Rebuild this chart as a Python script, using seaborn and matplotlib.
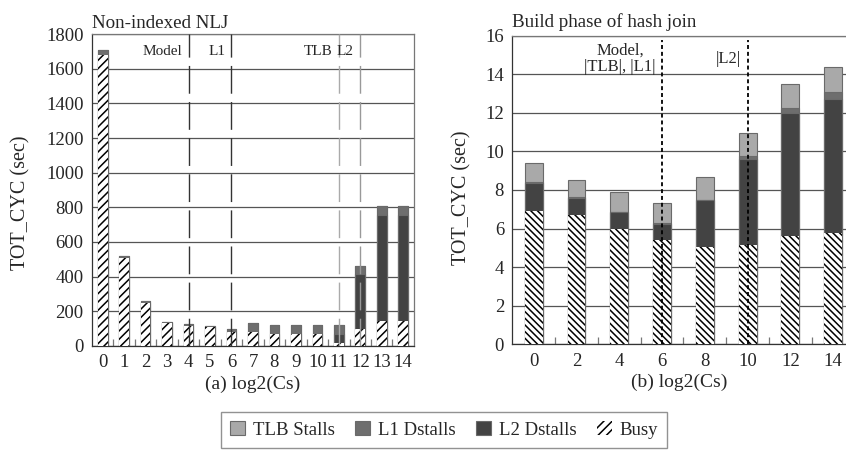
import numpy as np
import pandas as pd
import matplotlib
matplotlib.use("Agg")
import matplotlib.pyplot as plt
from matplotlib.patches import Patch
import seaborn as sns

# (a) Non-indexed nested-loop join, per log2(Cs)
cats_a = [str(i) for i in range(15)]
busy_a = [1680, 510, 250, 130, 118, 110, 82, 78, 70, 70, 72, 20, 97, 142, 145]
l2_a = [0, 0, 0, 0, 0, 0, 0, 0, 0, 0, 0, 51, 317, 613, 610]
l1_a = [25, 12, 8, 10, 10, 8, 14, 52, 52, 52, 50, 50, 49, 50, 53]
tlb_a = [0, 0, 0, 0, 0, 0, 0, 0, 0, 0, 0, 0, 0, 0, 0]

# (b) Build phase of hash join, per log2(Cs)
cats_b = ["0", "2", "4", "6", "8", "10", "12", "14"]
busy_b = [6.92, 6.68, 6.00, 5.40, 5.06, 5.13, 5.63, 5.75]
l2_b = [1.45, 0.90, 0.85, 0.83, 2.42, 4.47, 6.34, 6.95]
l1_b = [0.05, 0.05, 0.00, 0.07, 0.00, 0.16, 0.25, 0.36]
tlb_b = [0.95, 0.90, 1.02, 1.00, 1.17, 1.17, 1.27, 1.29]

# cache-boundary markers
marks_a = [("Model", "4", "#333333"), ("L1", "6", "#333333"),
           ("TLB", "11", "#aaaaaa"), ("L2", "12", "#999999")]
marks_b = [("Model,\n|TLB|, |L1|", "6"), ("|L2|", "10")]

series = ["TLB Stalls", "L1 Dstalls", "L2 Dstalls", "Busy"]
colors = {"TLB Stalls": "#a9a9a9", "L1 Dstalls": "#6e6e6e",
          "L2 Dstalls": "#434343", "Busy": "white"}

sns.set_style("white")
plt.rcParams["font.family"] = ["Liberation Serif", "DejaVu Serif"]
plt.rcParams["hatch.linewidth"] = 1.1

fig = plt.figure(figsize=(8.46, 4.54), dpi=100)
ax_a = fig.add_axes([0.1087, 0.2379, 0.3806, 0.6872])
ax_b = fig.add_axes([0.6056, 0.2416, 0.3944, 0.6802])


def stacked(ax, cats, busy, l2, l1, tlb, width, hatch):
    busy = np.asarray(busy, float)
    c_l2 = busy + np.asarray(l2, float)
    c_l1 = c_l2 + np.asarray(l1, float)
    c_tlb = c_l1 + np.asarray(tlb, float)
    layers = [("TLB Stalls", c_tlb), ("L1 Dstalls", c_l1),
              ("L2 Dstalls", c_l2)]
    for name, vals in layers:
        df = pd.DataFrame({"x": cats, "y": vals})
        sns.barplot(data=df, x="x", y="y", order=cats, ax=ax,
                    color=colors[name], saturation=1, width=width,
                    errorbar=None, edgecolor="#6a6a6a", linewidth=0.8,
                    zorder=2)
    df = pd.DataFrame({"x": cats, "y": busy})
    sns.barplot(data=df, x="x", y="y", order=cats, ax=ax, color="white",
                saturation=1, width=width, errorbar=None, hatch=hatch,
                edgecolor="black", linewidth=0, zorder=3)


stacked(ax_a, cats_a, busy_a, l2_a, l1_a, tlb_a, 0.45, "////")
stacked(ax_b, cats_b, busy_b, l2_b, l1_b, tlb_b, 0.42, "\\\\\\\\\\")

# axes styling
for ax, ymax, step, xr, n in [(ax_a, 1800, 200, 14.5, 15),
                              (ax_b, 16, 2, 7.3, 8)]:
    ax.set_yticks(np.arange(0, ymax + step / 2, step))
    ax.set_xticks(np.arange(0.5, xr, 1.0), minor=True)
    ax.set_ylim(0, ymax)
    ax.set_xlim(-0.5, xr)
    ax.yaxis.grid(True, color="#555555", linewidth=0.9)
    ax.set_axisbelow(True)
    ax.tick_params(axis="x", which="minor", direction="in", length=5,
                   width=0.9, color="#777777", bottom=True)
    ax.tick_params(axis="x", which="major", length=0, labelsize=13.5, pad=6)
    ax.tick_params(axis="y", which="major", length=0, labelsize=13.5, pad=6)
    for s in ax.spines.values():
        s.set_color("#777777")
        s.set_linewidth(0.9)
    ax.spines["bottom"].set_color("#333333")
    ax.spines["left"].set_color("#333333")

ax_b.spines["right"].set_visible(False)

ax_a.set_xlabel("(a) log2(Cs)", fontsize=14, labelpad=3)
ax_b.set_xlabel("(b) log2(Cs)", fontsize=14, labelpad=3)
ax_a.set_ylabel("TOT_CYC (sec)", fontsize=14.5)
ax_b.set_ylabel("TOT_CYC (sec)", fontsize=14.5)
ax_a.yaxis.set_label_coords(-0.19, 0.46)
ax_b.yaxis.set_label_coords(-0.121, 0.475)

ax_a.set_title("Non-indexed NLJ", loc="left", fontsize=13.7, pad=4)
ax_b.set_title("Build phase of hash join", loc="left", fontsize=13.7, pad=6)

# cache-boundary lines and labels
for label, cat, col in marks_a:
    xp = cats_a.index(cat)
    ax_a.axvline(xp, color=col, linewidth=1.0, linestyle=(0, (20, 6)),
                 zorder=5)
    ax_a.text(xp - 0.3, 1700, label, ha="right", va="center",
              fontsize=11, zorder=6)

for label, cat in marks_b:
    xp = cats_b.index(cat)
    ax_b.axvline(xp, ymax=0.985, color="black", linewidth=1.3,
                 linestyle=(0, (2.2, 1.6)), zorder=5)
    ax_b.text(xp - 0.15, 14.8, label, ha="right", va="center",
              multialignment="center", fontsize=12, zorder=6,
              linespacing=1.05)

# legend
handles = [Patch(facecolor=colors[s], edgecolor="#6a6a6a", linewidth=0.8)
           for s in series[:3]]
handles.append(Patch(facecolor="white", edgecolor="black", linewidth=0,
                     hatch="////"))
leg = fig.legend(handles, series, loc="upper center",
                 bbox_to_anchor=(0.525, 0.093), ncol=4, fontsize=13.5,
                 frameon=True, fancybox=False, edgecolor="#777777",
                 handlelength=0.8, handleheight=0.8, handletextpad=0.4,
                 columnspacing=1.1, borderpad=0.5, borderaxespad=0)
leg.get_frame().set_linewidth(1.0)

fig.savefig("out.png", dpi=100)
